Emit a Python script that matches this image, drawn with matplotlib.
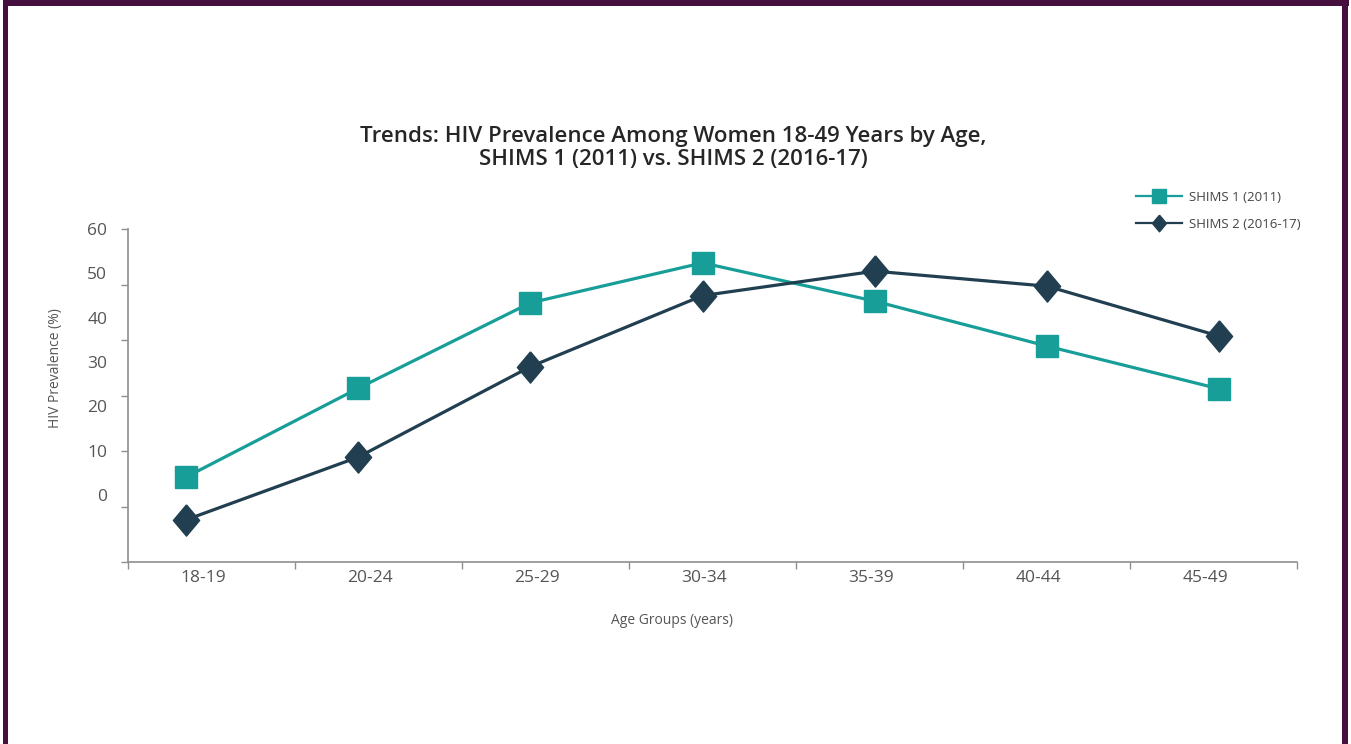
import numpy as np
import matplotlib
matplotlib.use("Agg")
import matplotlib.pyplot as plt
from matplotlib.lines import Line2D
from matplotlib.patches import Rectangle

# values (HIV prevalence %, women 18-49)
age_groups = ["18-19", "20-24", "25-29", "30-34", "35-39", "40-44", "45-49"]
shims1 = [15.3, 31.3, 46.7, 53.9, 47.0, 38.9, 31.2]
shims2 = [7.6, 18.9, 35.2, 48.0, 52.4, 49.7, 40.7]
y_values = [0, 10, 20, 30, 40, 50, 60]
y_labels = ["0", "10", "20", "30", "40", "50", "60"]
series_names = ["SHIMS 1 (2011)", "SHIMS 2 (2016-17)"]

TEAL = "#179e99"
NAVY = "#213f50"
GREY = "#8f8f8f"
TXT = "#555555"
FRAME = "#450f3e"

plt.rcParams['font.family'] = ['Open Sans', 'DejaVu Sans']

W, H = 1351, 744
fig = plt.figure(figsize=(W / 100, H / 100), dpi=100)
ax = fig.add_axes([128 / W, 1 - 562 / H, (1297 - 128) / W, (562 - 229) / H])

diamond = [(0, 1), (0.84, 0), (0, -1), (-0.84, 0), (0, 1)]
x = np.arange(len(age_groups))
ax.plot(x, shims1, color=TEAL, lw=2.3, marker='s', ms=15.8, zorder=3)
ax.plot(x, shims2, color=NAVY, lw=2.3, marker=diamond, ms=22.5, zorder=4)

ax.set_xlim(-0.337, 6.452)
ax.set_ylim(0, 60)

# band edges carry the tick marks, labels sit inside the bands
edges = np.linspace(-0.337, 6.452, len(age_groups) + 1)
band = edges[1] - edges[0]
ax.set_xticks(edges, minor=True)
ax.set_xticks(edges[:-1] + 0.45 * band)
ax.set_xticklabels(age_groups)
ax.tick_params(axis='x', which='major', length=0, pad=6, labelsize=12.5, labelcolor=TXT)
ax.tick_params(axis='x', which='minor', length=5, width=1, color=GREY, direction='out')

# y labels in the source are squeezed relative to the tick marks
ax.set_yticks(y_values, minor=True)
ax.set_yticks(12.1 + 0.798 * np.array(y_values))
ax.set_yticklabels(y_labels)
ax.tick_params(axis='y', which='major', length=0, pad=15, labelsize=12.5, labelcolor=TXT)
ax.tick_params(axis='y', which='minor', length=5, width=1, color=GREY, direction='out')

for s in ['top', 'right']:
    ax.spines[s].set_visible(False)
for s in ['left', 'bottom']:
    ax.spines[s].set_color(GREY)
    ax.spines[s].set_linewidth(1.2)

ax.text((56 - 128) / 1169, (562 - 368) / 333, "HIV Prevalence (%)", transform=ax.transAxes,
        rotation=90, ha='center', va='center', fontsize=10, color=TXT)
fig.text(672 / W, 1 - 621 / H, "Age Groups (years)", ha='center', va='center',
         fontsize=10, color=TXT)

fig.text(673 / W, 1 - 148 / H,
         "Trends: HIV Prevalence Among Women 18-49 Years by Age,\nSHIMS 1 (2011) vs. SHIMS 2 (2016-17)",
         ha='center', va='center', fontsize=16, fontweight='semibold', color="#262626",
         linespacing=1.1)

handles = [Line2D([], [], color=TEAL, lw=1.6, marker='s', ms=9.5),
           Line2D([], [], color=NAVY, lw=1.6, marker=diamond, ms=12)]
leg = fig.legend(handles, series_names, loc='upper left',
                 bbox_to_anchor=(1136 / W, 1 - 191 / H), frameon=False, fontsize=9.5,
                 handlelength=3.5, handletextpad=0.5, labelspacing=1.05,
                 borderpad=0, borderaxespad=0)
for t in leg.get_texts():
    t.set_color("#444444")

# purple frame round the picture
fig.add_artist(Rectangle((3 / W, 738 / H), 1346 / W, 6 / H, transform=fig.transFigure,
                         color=FRAME, lw=0))
fig.add_artist(Rectangle((3 / W, 0), 5 / W, 1, transform=fig.transFigure, color=FRAME, lw=0))
fig.add_artist(Rectangle((1342 / W, 0), 6 / W, 1, transform=fig.transFigure, color=FRAME, lw=0))

fig.savefig("out.png", dpi=100)
